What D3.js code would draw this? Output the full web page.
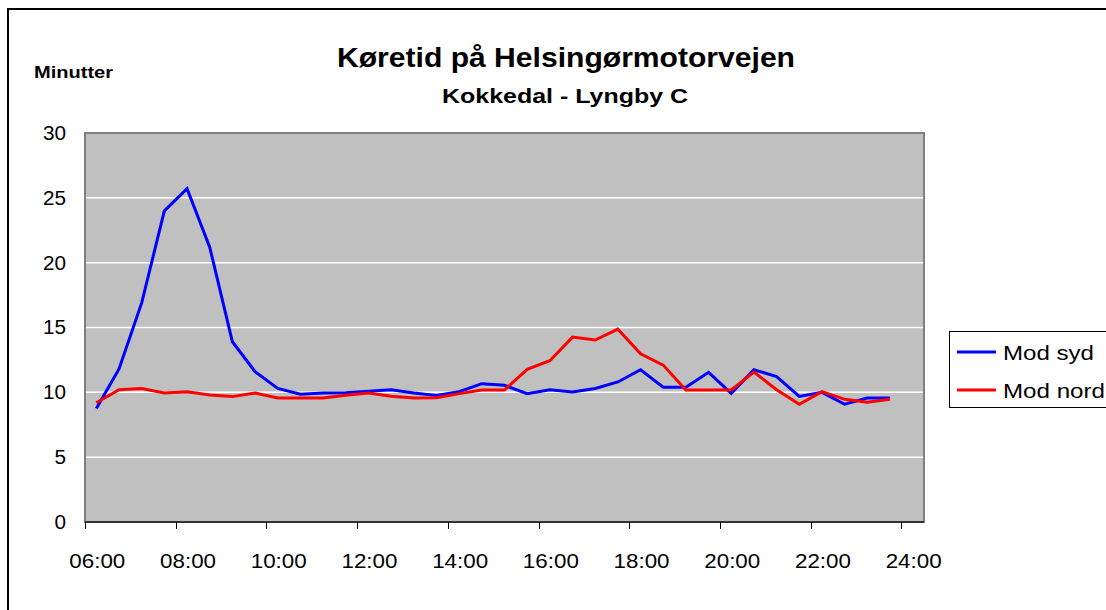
<!DOCTYPE html>
<html>
<head>
<meta charset="utf-8">
<script src="https://cdn.jsdelivr.net/npm/d3@7"></script>
<style>
  html, body { margin: 0; padding: 0; background: #fff; }
  svg text { font-family: Arial, "Liberation Sans", sans-serif; }
</style>
</head>
<body>
<svg id="chart" width="1106" height="610"></svg>
<script>
const categories = ["06:00","06:30","07:00","07:30","08:00","08:30","09:00","09:30","10:00","10:30",
  "11:00","11:30","12:00","12:30","13:00","13:30","14:00","14:30","15:00","15:30",
  "16:00","16:30","17:00","17:30","18:00","18:30","19:00","19:30","20:00","20:30",
  "21:00","21:30","22:00","22:30","23:00","23:30","24:00"];
const modSyd = [8.75, 11.8, 16.9, 24.0, 25.7, 21.2, 13.9, 11.6, 10.3, 9.85,
  9.95, 9.97, 10.08, 10.2, 9.95, 9.75, 10.05, 10.67, 10.54, 9.9,
  10.2, 10.02, 10.3, 10.8, 11.74, 10.4, 10.4, 11.54, 9.92, 11.74,
  11.22, 9.69, 10.0, 9.08, 9.56, 9.56];
const modNord = [9.2, 10.2, 10.3, 9.95, 10.05, 9.8, 9.67, 9.95, 9.56, 9.56,
  9.56, 9.77, 9.95, 9.7, 9.57, 9.58, 9.9, 10.18, 10.18, 11.77,
  12.44, 14.26, 14.03, 14.87, 12.97, 12.1, 10.18, 10.18, 10.18, 11.56,
  10.2, 9.08, 10.05, 9.46, 9.23, 9.46];
const xTickLabels = ["06:00","08:00","10:00","12:00","14:00","16:00","18:00","20:00","22:00","24:00"];
const yTicks = [0, 5, 10, 15, 20, 25, 30];
const seriesNames = ["Mod syd", "Mod nord"];
const seriesColors = ["#0000FF", "#FF0000"];

const svg = d3.select("#chart");

// outer frame
svg.append("rect").attr("x", 8).attr("y", 9).attr("width", 1110).attr("height", 620)
  .attr("fill", "none").attr("stroke", "#000").attr("stroke-width", 2);

const plot = { left: 85, right: 924, top: 133, bottom: 522 };

const x = d3.scaleBand().domain(categories).range([plot.left, plot.right]).padding(0);
const y = d3.scaleLinear().domain([0, 30]).range([plot.bottom, plot.top]);

// plot background
svg.append("rect").attr("x", plot.left).attr("y", plot.top)
  .attr("width", plot.right - plot.left).attr("height", plot.bottom - plot.top)
  .attr("fill", "#C0C0C0").attr("stroke", "#808080").attr("stroke-width", 2);

// gridlines
svg.append("g").selectAll("line").data(yTicks.filter(d => d > 0 && d < 30)).join("line")
  .attr("x1", plot.left + 1).attr("x2", plot.right - 1)
  .attr("y1", d => y(d)).attr("y2", d => y(d))
  .attr("stroke", "#FFFFFF").attr("stroke-width", 1.5);

// y axis labels
const yAxis = d3.axisLeft(y).tickValues(yTicks).tickSize(0).tickPadding(19).tickFormat(d3.format("d"));
const gy = svg.append("g").attr("transform", `translate(${plot.left},0)`).call(yAxis);
gy.select(".domain").remove();
gy.selectAll("text").attr("font-size", 20).attr("fill", "#000")
  .attr("textLength", d => String(d).length * 11.5).attr("lengthAdjust", "spacingAndGlyphs");

// x axis
const tickCats = categories.filter((c, i) => i % 4 === 0);
const gx = svg.append("g").attr("transform", `translate(0,${plot.bottom})`);
gx.append("line").attr("x1", plot.left).attr("x2", plot.right).attr("y1", 0).attr("y2", 0)
  .attr("stroke", "#333").attr("stroke-width", 2);
gx.selectAll("line.tick").data(tickCats).join("line").attr("class", "tick")
  .attr("x1", d => Math.round(x(d)) + 0.5).attr("x2", d => Math.round(x(d)) + 0.5)
  .attr("y1", 0).attr("y2", 7).attr("stroke", "#000").attr("stroke-width", 1);
gx.selectAll("text").data(tickCats).join("text")
  .attr("x", d => x(d) + x.bandwidth() / 2 + 1).attr("y", 46)
  .attr("text-anchor", "middle").attr("font-size", 20).attr("fill", "#000")
  .attr("textLength", 56).attr("lengthAdjust", "spacingAndGlyphs")
  .text((d, i) => xTickLabels[i]);

// lines
const series = [modSyd, modNord];
const line = d3.line()
  .x((d, i) => x(categories[i]) + x.bandwidth() / 2)
  .y(d => y(d));
series.forEach((s, k) => {
  svg.append("path").datum(s).attr("d", line)
    .attr("fill", "none").attr("stroke", seriesColors[k]).attr("stroke-width", 3)
    .attr("stroke-linejoin", "miter");
});

// titles
svg.append("text").attr("x", 566).attr("y", 67).attr("text-anchor", "middle")
  .attr("font-size", 28).attr("font-weight", "bold")
  .attr("textLength", 458).attr("lengthAdjust", "spacingAndGlyphs")
  .text("Køretid på Helsingørmotorvejen");
svg.append("text").attr("x", 565).attr("y", 103).attr("text-anchor", "middle")
  .attr("font-size", 20).attr("font-weight", "bold")
  .attr("textLength", 246).attr("lengthAdjust", "spacingAndGlyphs")
  .text("Kokkedal - Lyngby C");
svg.append("text").attr("x", 34).attr("y", 78).attr("font-size", 16)
  .attr("font-weight", "bold")
  .attr("textLength", 79).attr("lengthAdjust", "spacingAndGlyphs")
  .text("Minutter");

// legend
const legendWidths = [91, 102];
const lg = svg.append("g");
lg.append("rect").attr("x", 949.5).attr("y", 331.5).attr("width", 170).attr("height", 76)
  .attr("fill", "#fff").attr("stroke", "#000").attr("stroke-width", 1);
seriesNames.forEach((n, k) => {
  const yy = 352 + k * 38;
  lg.append("line").attr("x1", 957).attr("x2", 996).attr("y1", yy).attr("y2", yy)
    .attr("stroke", seriesColors[k]).attr("stroke-width", 3);
  lg.append("text").attr("x", 1003).attr("y", yy + 8).attr("font-size", 21)
    .attr("textLength", legendWidths[k]).attr("lengthAdjust", "spacingAndGlyphs").text(n);
});
</script>
</body>
</html>
